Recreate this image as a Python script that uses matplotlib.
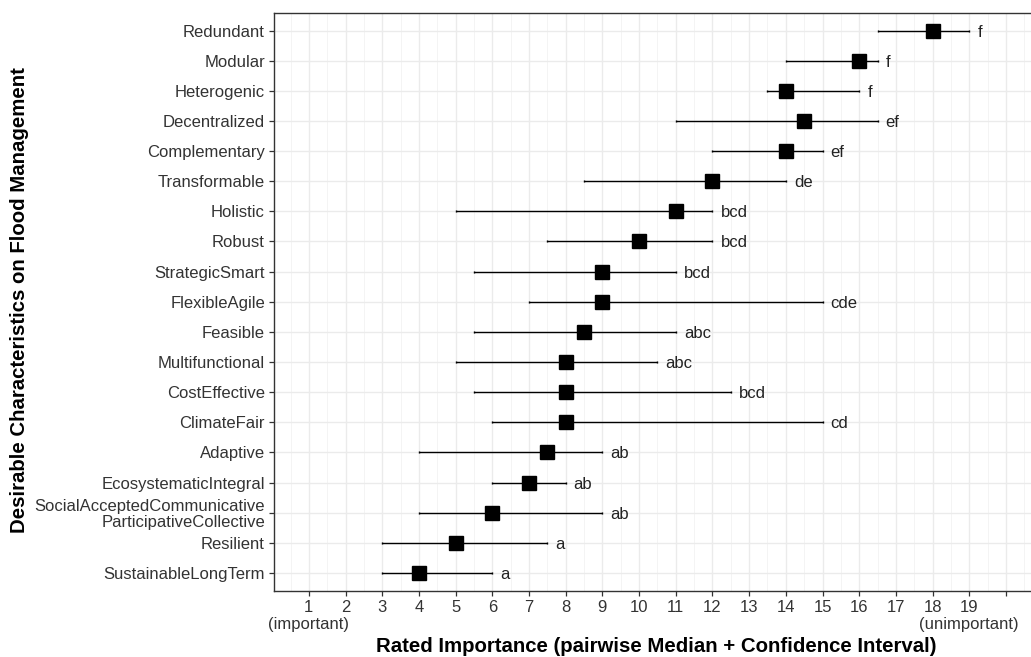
import numpy as np
import matplotlib
matplotlib.use("Agg")
import matplotlib.pyplot as plt
import matplotlib.transforms as mtrans

# categories listed from bottom to top
labels = ["SustainableLongTerm", "Resilient",
          "SocialAcceptedCommunicative\nParticipativeCollective",
          "EcosystematicIntegral", "Adaptive", "ClimateFair", "CostEffective",
          "Multifunctional", "Feasible", "FlexibleAgile", "StrategicSmart",
          "Robust", "Holistic", "Transformable", "Complementary",
          "Decentralized", "Heterogenic", "Modular", "Redundant"]
median = [4, 5, 6, 7, 7.5, 8, 8, 8, 8.5, 9, 9, 10, 11, 12, 14, 14.5, 14, 16, 18]
lower = [3, 3, 4, 6, 4, 6, 5.5, 5, 5.5, 7, 5.5, 7.5, 5, 8.5, 12, 11, 13.5, 14, 16.5]
upper = [6, 7.5, 9, 8, 9, 15, 12.5, 10.5, 11, 15, 11, 12, 12, 14, 15, 16.5, 16, 16.5, 19]
groups = ["a", "a", "ab", "ab", "ab", "cd", "bcd", "abc", "abc", "cde", "bcd",
          "bcd", "bcd", "de", "ef", "ef", "f", "f", "f"]
xticklabels = [str(i) for i in range(1, 20)] + [""]
end_notes = {1: "(important)", 19: "(unimportant)"}

plt.rcParams['font.family'] = ['Liberation Sans', 'DejaVu Sans']

fig = plt.figure(figsize=(10.31, 6.57), dpi=100)
ax = fig.add_axes([274 / 1031, 1 - 591 / 657, (1040.8 - 274) / 1031, (591 - 12.5) / 657])

y = np.arange(len(labels))
med = np.array(median)
lo = np.array(lower)
hi = np.array(upper)

ax.errorbar(med, y, xerr=[med - lo, hi - med], fmt='none', ecolor='black',
            elinewidth=1.0, capsize=1.0, capthick=1.0, zorder=3)
ax.plot(med, y, 's', color='black', markersize=9.5, zorder=4)
for yi, hv, g in zip(y, hi, groups):
    ax.text(hv + 0.22, yi - 0.05, g, ha='left', va='center', fontsize=12, color='#222222')

ax.set_xlim(0.05, 20.95)
ax.set_ylim(-0.6, len(labels) - 0.4)
ax.set_xticks(np.arange(1, 21))
ax.set_xticklabels(xticklabels, fontsize=12, color='#333333')
ax.set_xticks(np.arange(0.5, 21, 1), minor=True)
ax.set_yticks(y)
ax.set_yticklabels(labels, fontsize=12, color='#333333', linespacing=1.1)

# "(important)" / "(unimportant)" notes under the end ticks
trans = mtrans.blended_transform_factory(ax.transData, fig.transFigure)
for xv, note in end_notes.items():
    ax.text(xv, 1 - 625 / 657, note, transform=trans, ha='center', va='center',
            fontsize=12, color='#333333')

ax.grid(which='major', color='#EBEBEB', linewidth=1.0, zorder=0)
ax.grid(which='minor', axis='x', color='#F2F2F2', linewidth=0.6, zorder=0)
ax.set_axisbelow(True)
ax.tick_params(which='major', length=3.5, width=0.9, color='#333333', pad=3)
ax.tick_params(which='minor', length=0)
for s in ax.spines.values():
    s.set_color('#333333')
    s.set_linewidth(1.0)

fig.text(656 / 1031, 1 - 646 / 657,
         "Rated Importance (pairwise Median + Confidence Interval)",
         ha='center', va='center', fontsize=14.7, fontweight='bold')
fig.text(20 / 1031, 1 - 300 / 657,
         "Desirable Characteristics on Flood Management",
         ha='center', va='center', rotation=90, fontsize=14.7, fontweight='bold')

fig.savefig("out.png", dpi=100)
